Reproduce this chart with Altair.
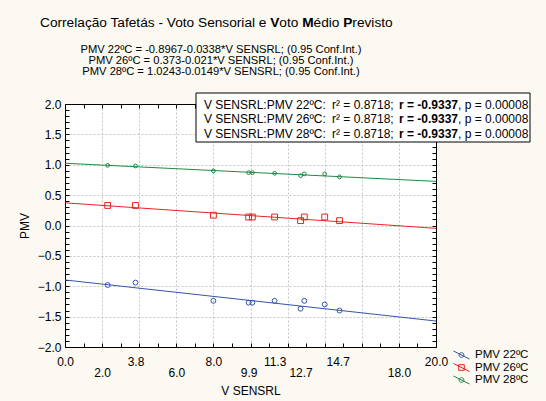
import altair as alt
import pandas as pd

# ---------------- data ----------------
series = ["PMV 22ºC", "PMV 26ºC", "PMV 28ºC"]
colors = ["#3355aa", "#ee2222", "#228844"]
v_sensrl = [2.3, 3.8, 8.0, 9.9, 10.1, 11.3, 12.7, 12.9, 14.0, 14.8]
pmv_22 = [-0.98, -0.94, -1.24, -1.27, -1.27, -1.24, -1.37, -1.24, -1.30, -1.40]
pmv_26 = [0.33, 0.33, 0.17, 0.14, 0.14, 0.14, 0.08, 0.14, 0.14, 0.08]
pmv_28 = [0.99, 0.98, 0.90, 0.87, 0.87, 0.86, 0.82, 0.85, 0.85, 0.80]
intercepts = [-0.8967, 0.373, 1.0243]
slopes = [-0.0338, -0.021, -0.0149]
r2_vals = ["0.8718", "0.8718", "0.8718"]
r_vals = ["-0.9337", "-0.9337", "-0.9337"]
p_vals = ["0.00008", "0.00008", "0.00008"]
x_labels_row1 = [0.0, 3.8, 8.0, 11.3, 14.7, 20.0]
x_labels_row2 = [2.0, 6.0, 9.9, 12.7, 18.0]
x_minor_ticks = [float(v) for v in range(0, 21)]
x_grid = [float(v) for v in range(2, 20, 2)]
y_ticks = [round(-2.0 + 0.1 * i, 1) for i in range(41)]
y_labels = [round(-2.0 + 0.5 * i, 1) for i in range(9)]
y_grid = [round(-1.5 + 0.5 * i, 1) for i in range(7)]
title_parts = [("Correlação Tafetás - Voto Sensorial e", False), ("V", True), ("oto", False),
               ("M", True), ("édio", False), ("P", True), ("revisto", False)]
x_title = "V SENSRL"
y_title = "PMV"

FONT = "Liberation Sans"

# ---------------- tables ----------------
pts = pd.DataFrame({
    "x": v_sensrl * 3,
    "pmv": pmv_22 + pmv_26 + pmv_28,
    "series": [s for s in series for _ in v_sensrl],
})
lines_df = pd.DataFrame({
    "x": [0.0, 20.0] * 3,
    "pmv": [a + b * xv for a, b in zip(intercepts, slopes) for xv in (0.0, 20.0)],
    "series": [s for s in series for _ in range(2)],
})


def js(lst):
    return "[" + ",".join(repr(v) for v in lst) + "]"


xs = alt.Scale(domain=[0, 20], nice=False, zero=False)
ys = alt.Scale(domain=[-2, 2], nice=False, zero=False)
color_scale = alt.Scale(domain=series, range=colors)

lab_all = sorted(x_labels_row1 + x_labels_row2)

# labelled axes (no ticks)
bottom_axis = alt.Axis(
    orient="bottom", values=lab_all, format=".1f",
    labelPadding={"condition": {"test": f"indexof({js(x_labels_row2)}, datum.value) >= 0", "value": 20}, "value": 9},
    labelOverlap=False, labelFlush=False, ticks=False,
    grid=False, domain=False, zindex=0, titlePadding=7,
)
left_axis = alt.Axis(
    orient="left", values=y_labels, format=".1f",
    labelOverlap=False, labelFlush=False, labelPadding=4, ticks=False,
    grid=False, domain=False, zindex=0, titlePadding=6,
)
# inward tick-only axes (negative offset pulls them inside the frame)
bottom_ticks = alt.Axis(orient="bottom", values=x_minor_ticks, labels=False, tickSize=4, offset=-4,
                        domain=False, zindex=0, grid=False)
left_ticks = alt.Axis(orient="left", values=y_ticks, labels=False, tickSize=4, offset=-4,
                      domain=False, zindex=0, grid=False)
top_axis = alt.Axis(orient="top", values=x_minor_ticks, labels=False, tickSize=4, offset=-4, grid=False,
                    domain=False, zindex=0)
right_axis = alt.Axis(orient="right", values=y_ticks, labels=False, tickSize=4, offset=-4, grid=False,
                      domain=False, zindex=0)
# grid-only axes
x_grid_axis = alt.Axis(orient="bottom", values=x_grid, labels=False, ticks=False, domain=False,
                       grid=True, gridColor="#c4c4c4", gridDash=[2, 2], zindex=0)
y_grid_axis = alt.Axis(orient="left", values=y_grid, labels=False, ticks=False, domain=False,
                       grid=True, gridColor="#c4c4c4", gridDash=[2, 2], zindex=0)

# legend symbols: diagonal line with the series marker
CIRCLE_PATH = "M-1,-0.5L1,0.5M0.3,0A0.3,0.3,0,1,1,-0.3,0A0.3,0.3,0,1,1,0.3,0"
SQUARE_PATH = "M-1,-0.5L1,0.5M-0.35,-0.35L0.35,-0.35L0.35,0.35L-0.35,0.35Z"

legend = alt.Legend(
    title=None, orient="none", legendX=388, legendY=245, padding=0,
    symbolSize=256, symbolStrokeWidth=1, symbolFillColor="transparent", symbolOpacity=1,
    labelFont=FONT, labelFontSize=11.5, labelColor="black", labelOffset=5,
    rowPadding=0.5, clipHeight=12,
)

line_layer = alt.Chart(lines_df).mark_line(strokeWidth=1).encode(
    x=alt.X("x:Q", scale=xs, axis=top_axis, title=None),
    y=alt.Y("pmv:Q", scale=ys, axis=right_axis, title=None),
    color=alt.Color("series:N", scale=color_scale, legend=legend),
)

legend_layer = alt.Chart(lines_df).mark_point(opacity=0, filled=False, strokeWidth=1).encode(
    x=alt.X("x:Q", scale=xs, axis=None),
    y=alt.Y("pmv:Q", scale=ys, axis=None),
    color=alt.Color("series:N", scale=color_scale, legend=legend),
    shape=alt.Shape("series:N", scale=alt.Scale(domain=series, range=[CIRCLE_PATH, SQUARE_PATH, CIRCLE_PATH]),
                    legend=legend),
)

shapes = ["circle", "square", "circle"]
sizes = [24, 34, 14]
axes_x = [bottom_axis, bottom_ticks, x_grid_axis]
axes_y = [left_axis, left_ticks, y_grid_axis]
titles_x = [x_title, None, None]
titles_y = [y_title, None, None]
point_layers = []
for i, s in enumerate(series):
    point_layers.append(
        alt.Chart(pts[pts["series"] == s]).mark_point(
            shape=shapes[i], size=sizes[i], filled=False, color=colors[i], strokeWidth=1, opacity=1
        ).encode(
            x=alt.X("x:Q", scale=xs, axis=axes_x[i], title=titles_x[i]),
            y=alt.Y("pmv:Q", scale=ys, axis=axes_y[i], title=titles_y[i]),
        )
    )

# ---- text annotations (title, equations, statistics box) ----
text_layers = []
TFS = 13.7
title_offsets = [o * TFS / 13.5 for o in [0, 226.8, 235.8, 258.3, 269.6, 298.8, 307.8]]
for (txt, bold), off in zip(title_parts, title_offsets):
    text_layers.append(
        alt.Chart(pd.DataFrame({"t": [txt]})).mark_text(
            align="left", baseline="middle", font=FONT, fontSize=TFS,
            fontWeight="bold" if bold else "normal", color="black"
        ).encode(text="t:N", x=alt.value(-25 + off), y=alt.value(-81))
    )

eq_lines = [f"{s} = {a}{b}*V SENSRL; (0.95 Conf.Int.)" for s, a, b in zip(series, intercepts, slopes)]
for j, line in enumerate(eq_lines):
    text_layers.append(
        alt.Chart(pd.DataFrame({"t": [line]})).mark_text(
            align="center", baseline="middle", font=FONT, fontSize=11.2, color="black"
        ).encode(text="t:N", x=alt.value(156), y=alt.value(-54 + 11 * j))
    )

box = alt.Chart(pd.DataFrame({"t": ["box"]})).mark_rect(
    fill="white", stroke="black", strokeWidth=1
).encode(x=alt.value(131), x2=alt.value(465), y=alt.value(-11), y2=alt.value(38))

col_x = [139, 267, 334, 393]
for j, s in enumerate(series):
    parts = [(f"V SENSRL:{s}:", False), (f"r² = {r2_vals[j]};", False),
             (f"r = {r_vals[j]}", True), (f", p = {p_vals[j]}", False)]
    for (txt, bold), cx in zip(parts, col_x):
        text_layers.append(
            alt.Chart(pd.DataFrame({"t": [txt]})).mark_text(
                align="left", baseline="middle", font=FONT, fontSize=12,
                fontWeight="bold" if bold else "normal", color="black"
            ).encode(text="t:N", x=alt.value(cx), y=alt.value(0.5 + 14.5 * j))
        )

chart = alt.layer(
    *point_layers, line_layer, legend_layer, box, *text_layers
).resolve_axis(
    x="independent", y="independent"
).properties(
    width=371, height=243,
    padding={"left": 65, "top": 104, "right": 110, "bottom": 54},
    autosize=alt.AutoSizeParams(type="none"),
    background="#fbf9f1",
).configure_view(
    stroke="black", strokeWidth=1, fill="white"
).configure_axis(
    grid=False,
    labelFont=FONT, labelFontSize=12, labelColor="black",
    titleFont=FONT, titleFontSize=12, titleFontWeight="normal", titleColor="black",
    domainColor="black", domainWidth=1, tickColor="black", tickWidth=1,
)

chart.save("out.html", embed_options={"renderer": "svg", "actions": False})
